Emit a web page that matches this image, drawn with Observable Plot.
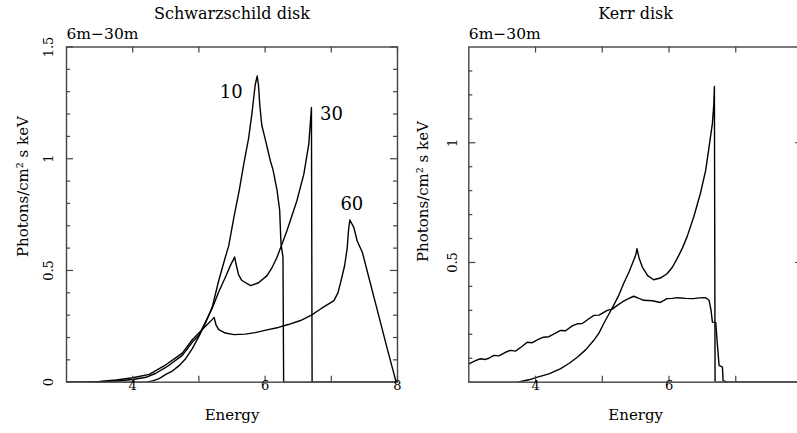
<!DOCTYPE html>
<html><head><meta charset="utf-8">
<script src="https://cdn.jsdelivr.net/npm/d3@7"></script>
<script src="https://cdn.jsdelivr.net/npm/@observablehq/plot@0.6"></script>
<style>
html,body{margin:0;padding:0;background:#fff;overflow:hidden}
#wrap{position:relative;width:797px;height:433px;overflow:hidden;background:#fff}
#wrap svg{position:absolute;top:0;max-width:none}
</style></head><body><div id="wrap"></div>
<script>
// ---- Schwarzschild disk, inclination 10 ----
const s10E = [3.0,4.2,4.3,4.4,4.5,4.6,4.7,4.8,4.9,5.0,5.1,5.2,5.3,5.4,5.45,5.53,5.61,5.68,5.75,5.8,5.85,5.88,5.9,5.92,5.95,6.0,6.08,6.12,6.18,6.22,6.24,6.27,6.28,8.0];
const s10V = [0,0,0.006,0.016,0.035,0.05,0.074,0.105,0.15,0.205,0.265,0.335,0.455,0.56,0.61,0.74,0.86,0.98,1.09,1.2,1.33,1.37,1.33,1.24,1.15,1.09,0.99,0.95,0.86,0.77,0.62,0.56,0,0];
// ---- Schwarzschild disk, inclination 30 ----
const s30E = [3.0,3.4,3.7,4.0,4.2,4.35,4.5,4.75,4.92,5.0,5.1,5.2,5.3,5.4,5.48,5.54,5.56,5.6,5.65,5.78,5.9,6.03,6.1,6.18,6.33,6.48,6.585,6.66,6.7,6.71,8.0];
const s30V = [0,0,0.004,0.012,0.022,0.04,0.066,0.12,0.186,0.21,0.27,0.33,0.405,0.47,0.525,0.56,0.53,0.48,0.455,0.432,0.445,0.477,0.51,0.559,0.678,0.812,0.931,1.065,1.229,0,0];
// ---- Schwarzschild disk, inclination 60 ----
const s60E = [3.0,3.3,3.5,3.75,4.0,4.25,4.5,4.75,4.9,5.0,5.1,5.2,5.23,5.26,5.3,5.4,5.53,5.7,5.85,6.03,6.2,6.35,6.535,6.7,6.85,7.04,7.1,7.14,7.2,7.24,7.26,7.28,7.34,7.39,7.47,7.54,7.69,7.84,7.98,8.0];
const s60V = [0,0,0.003,0.01,0.02,0.035,0.078,0.13,0.19,0.22,0.25,0.28,0.29,0.255,0.235,0.22,0.213,0.215,0.222,0.234,0.245,0.258,0.276,0.3,0.33,0.365,0.4,0.445,0.52,0.6,0.68,0.726,0.693,0.633,0.58,0.5,0.328,0.156,0,0];
// ---- Kerr disk, peaked profile ----
const kaE = [3.0,3.73,3.9,4.03,4.2,4.37,4.5,4.63,4.75,4.87,4.95,5.02,5.1,5.17,5.25,5.32,5.4,5.45,5.5,5.52,5.55,5.6,5.68,5.77,5.87,5.97,6.05,6.12,6.2,6.27,6.37,6.47,6.55,6.6,6.65,6.67,6.68,6.69,8.0];
const kaV = [0,0,0.01,0.021,0.035,0.056,0.078,0.105,0.135,0.174,0.205,0.244,0.285,0.321,0.365,0.412,0.46,0.495,0.53,0.558,0.52,0.481,0.445,0.428,0.435,0.453,0.48,0.515,0.56,0.607,0.69,0.788,0.886,0.983,1.081,1.158,1.235,0,0];
// ---- Kerr disk, broad flat profile ----
const kbE = [3.0,3.1,3.175,3.25,3.3,3.375,3.45,3.55,3.625,3.7,3.8,3.875,3.95,4.05,4.12,4.2,4.3,4.375,4.45,4.55,4.625,4.7,4.8,4.875,4.95,5.075,5.15,5.225,5.3,5.4,5.47,5.55,5.62,5.75,5.87,5.97,6.05,6.12,6.25,6.37,6.45,6.55,6.6,6.63,6.65,6.7,6.72,6.75,6.8,6.81,6.87,8.0];
const kbV = [0.077,0.09,0.098,0.095,0.1,0.112,0.11,0.125,0.133,0.13,0.15,0.167,0.165,0.18,0.188,0.19,0.205,0.216,0.215,0.235,0.244,0.245,0.265,0.279,0.28,0.3,0.305,0.321,0.335,0.35,0.359,0.35,0.342,0.34,0.333,0.349,0.35,0.353,0.35,0.349,0.352,0.353,0.342,0.3,0.251,0.25,0.174,0.07,0.063,0.007,0,0];

// ---- axis ticks and labels ----
const xTicks = [4,5,6,7,8];
const xLabelsL = [4,6,8];
const xLabelsR = [4,6];
const yMajorL = [0.5,1,1.5];
const yMinorL = [0.1,0.2,0.3,0.4,0.6,0.7,0.8,0.9,1.1,1.2,1.3,1.4];
const yLabelsL = [0,0.5,1,1.5];
const yMajorR = [0.5,1];
const yMinorR = [0.1,0.2,0.3,0.4,0.6,0.7,0.8,0.9,1.1,1.2,1.3];
const yLabelsR = [0.5,1];
const curveNames = ["10","30","60"];
const titles = ["Schwarzschild disk","Kerr disk"];
const subtitle = "6m\u221230m";
const xTitle = "Energy";
const yTitle = "Photons/cm\u00b2 s keV";

const rows = (E, V) => E.map((e, i) => ({E: e, v: V[i]}));
const H = 433, MT = 46.5, MB = 51.3;
const innerH = H - MT - MB;
const INK = "#444";
const FONT = "DejaVu Serif";
const X0 = 3, X1 = 8;

function panel({width, marginLeft, marginRight, yMax, yMajor, yMinor, yLabels, xLabels, title, series, extra = [], ydx, ylabDx, ylabDy}) {
  const innerW = width - marginLeft - marginRight;
  const fmt = d => String(d);
  const py = p => p * yMax / innerH;             // pixel length -> y units
  const px = p => p * (X1 - X0) / innerW;        // pixel length -> x units
  const tk = {stroke: INK, strokeWidth: 1.2};
  return Plot.plot({
    width, height: H, marginTop: MT, marginBottom: MB, marginLeft, marginRight,
    style: {fontFamily: FONT, fontSize: "13px", background: "transparent", overflow: "visible"},
    x: {domain: [X0, X1], axis: null},
    y: {domain: [0, yMax], axis: null},
    marks: [
      ...series.map(s => Plot.line(s, {x: "E", y: "v", stroke: "#000", strokeWidth: 1.4, clip: true})),
      Plot.frame({stroke: INK, strokeWidth: 1.4}),
      Plot.ruleX(xTicks, {x: d => d, y1: 0, y2: py(6), ...tk}),
      Plot.ruleX(xTicks, {x: d => d, y1: yMax, y2: yMax - py(6), ...tk}),
      Plot.ruleY(yMajor, {y: d => d, x1: X0, x2: X0 + px(7), ...tk}),
      Plot.ruleY(yMajor, {y: d => d, x1: X1, x2: X1 - px(7), ...tk}),
      Plot.ruleY(yMinor, {y: d => d, x1: X0, x2: X0 + px(4), ...tk}),
      Plot.ruleY(yMinor, {y: d => d, x1: X1, x2: X1 - px(4), ...tk}),
      Plot.text(xLabels, {x: d => d, frameAnchor: "bottom", dy: 8, text: fmt, fontSize: 13}),
      Plot.text(yLabels, {y: d => d, frameAnchor: "left", textAnchor: "middle", dx: ydx, rotate: -90, text: fmt, fontSize: 13}),
      Plot.text([xTitle], {frameAnchor: "bottom", dy: 38, fontSize: 15}),
      Plot.text([yTitle], {frameAnchor: "left", textAnchor: "middle", dx: ylabDx, dy: ylabDy, rotate: -90, fontSize: 15}),
      Plot.text([title], {frameAnchor: "top", dy: -39.5, fontSize: 16}),
      Plot.text([subtitle], {frameAnchor: "top-left", textAnchor: "start", dy: -19, fontSize: 15.5}),
      ...extra
    ]
  });
}

const s10 = rows(s10E, s10V), s30 = rows(s30E, s30V), s60 = rows(s60E, s60V);
const peak = s => [s[d3.maxIndex(s, d => d.v)]];
const labelMark = (s, name, dx, dy) => Plot.text(peak(s), {x: "E", y: "v", text: () => name, dx, dy, fontSize: 18});

const left = panel({
  width: 400, marginLeft: 66, marginRight: 3, yMax: 1.5,
  yMajor: yMajorL, yMinor: yMinorL, yLabels: yLabelsL, xLabels: xLabelsL,
  title: titles[0], series: [s10, s30, s60], ydx: -18, ylabDx: -43.5, ylabDy: -28,
  extra: [labelMark(s10, curveNames[0], -26, 16), labelMark(s30, curveNames[1], 20, 7), labelMark(s60, curveNames[2], 2, -16)]
});
const right = panel({
  width: 402, marginLeft: 68.3, marginRight: 0, yMax: 1.4,
  yMajor: yMajorR, yMinor: yMinorR, yLabels: yLabelsR, xLabels: xLabelsR,
  title: titles[1], series: [rows(kaE, kaV), rows(kbE, kbV)], ydx: -16.3, ylabDx: -46, ylabDy: -23
});
left.style.left = "0px";
right.style.left = "400px";
const wrap = document.getElementById("wrap");
wrap.appendChild(left);
wrap.appendChild(right);
</script></body></html>
